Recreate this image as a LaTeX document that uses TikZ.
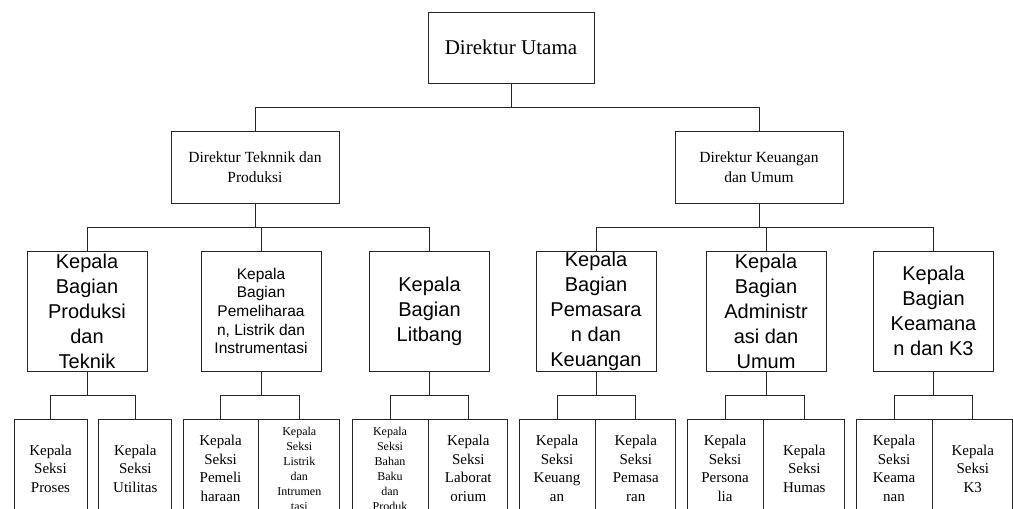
\documentclass[tikz,border=0pt]{standalone}
\usepackage{fontspec}
\setmainfont{Liberation Serif}
\setsansfont{Liberation Sans}
\usetikzlibrary{positioning}

\begin{document}
\begin{tikzpicture}[x=1pt,y=-1pt,line width=0.8pt,
    box/.style={draw=black!85,align=center,inner sep=0pt},
    dir node/.style={box,font=\fontsize{15.5}{19.5}\selectfont,minimum width=168pt,minimum height=72pt},
    bagian node/.style={box,font=\sffamily\fontsize{20}{25}\selectfont,minimum width=120pt,minimum height=120pt},
    seksi node/.style={box,font=\fontsize{15}{18.5}\selectfont,minimum height=98pt},
    kecil/.style={font=\fontsize{12}{15}\selectfont}]

    \useasboundingbox (0,0) rectangle (1013,509);
    \clip (0,0) rectangle (1013,509);

    \node[box,font=\fontsize{21}{25}\selectfont,minimum width=166pt,minimum height=71pt] (dirut) at (511,47.5) {Direktur Utama};
    \node[dir node] (dirtek) at (255,167) {Direktur Teknnik dan\\Produksi};
    \node[dir node] (dirkeu) at (759,167) {Direktur Keuangan\\dan Umum};

    \node[bagian node] (kbprod) at (87,311) {Kepala\\Bagian\\Produksi\\dan\\Teknik};
    \node[bagian node,font=\sffamily\fontsize{15.5}{18.7}\selectfont] (kbpemel) at (261,311) {Kepala\\Bagian\\Pemeliharaa\\n, Listrik dan\\Instrumentasi};
    \node[bagian node] (kblitbang) at (429.5,311) {Kepala\\Bagian\\Litbang};
    \node[bagian node] (kbpemasaran) at (596,311) {Kepala\\Bagian\\Pemasara\\n dan\\Keuangan};
    \node[bagian node] (kbadmin) at (766,311) {Kepala\\Bagian\\Administr\\asi dan\\Umum};
    \node[bagian node] (kbkeamanan) at (933.5,311) {Kepala\\Bagian\\Keamana\\n dan K3};

    \node[seksi node,minimum width=73pt,anchor=north] (ksproses) at (50.5,419) {Kepala\\Seksi\\Proses};
    \node[seksi node,minimum width=73pt] (ksutil) [right=11pt of ksproses] {Kepala\\Seksi\\Utilitas};
    \node[seksi node,minimum width=75pt,anchor=north] (kspemel) at (220.5,419) {Kepala\\Seksi\\Pemeli\\haraan};
    \node[seksi node,kecil,minimum width=81pt] (kslistrik) [right=0pt of kspemel] {Kepala\\Seksi\\Listrik\\dan\\Intrumen\\tasi};
    \node[seksi node,kecil,minimum width=76pt,anchor=north] (ksbahan) at (390,419) {Kepala\\Seksi\\Bahan\\Baku\\dan\\Produk};
    \node[seksi node,minimum width=79pt] (kslab) [right=0pt of ksbahan] {Kepala\\Seksi\\Laborat\\orium};
    \node[seksi node,minimum width=76pt,anchor=north] (kskeu) at (557,419) {Kepala\\Seksi\\Keuang\\an};
    \node[seksi node,minimum width=80pt] (kspemasaran) [right=0pt of kskeu] {Kepala\\Seksi\\Pemasa\\ran};
    \node[seksi node,minimum width=76pt,anchor=north] (kspersona) at (725,419) {Kepala\\Seksi\\Persona\\lia};
    \node[seksi node,minimum width=81pt] (kshumas) [right=0pt of kspersona] {Kepala\\Seksi\\Humas};
    \node[seksi node,minimum width=76pt,anchor=north] (kskeamanan) at (894,419) {Kepala\\Seksi\\Keama\\nan};
    \node[seksi node,minimum width=80pt] (ksk3) [right=0pt of kskeamanan] {Kepala\\Seksi\\K3};

    \foreach \a/\b in {dirut/dirtek,dirut/dirkeu,
        dirtek/kbprod,dirtek/kbpemel,dirtek/kblitbang,
        dirkeu/kbpemasaran,dirkeu/kbadmin,dirkeu/kbkeamanan,
        kbprod/ksproses,kbprod/ksutil,kbpemel/kspemel,kbpemel/kslistrik,
        kblitbang/ksbahan,kblitbang/kslab,kbpemasaran/kskeu,kbpemasaran/kspemasaran,
        kbadmin/kspersona,kbadmin/kshumas,kbkeamanan/kskeamanan,kbkeamanan/ksk3}
    \draw[black!85] (\a.south) -- ++(0,24) -| (\b.north);
\end{tikzpicture}
\end{document}
